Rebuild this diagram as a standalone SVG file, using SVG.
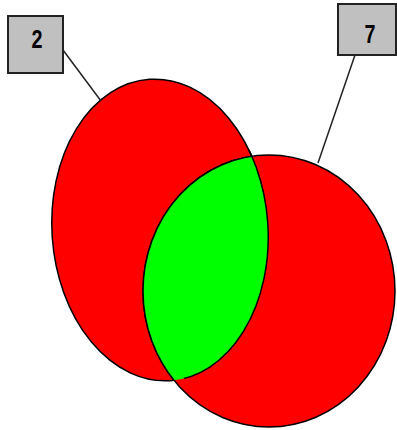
<svg xmlns="http://www.w3.org/2000/svg" width="397" height="430" viewBox="0 0 397 430">
<style>
.set{fill:#ff0000;stroke:#000;stroke-width:1.5}
.both{fill:#00ff00;stroke:#000;stroke-width:1.5}
.box{fill:#c0c0c0;stroke:#222;stroke-width:2}
.lbl{font-family:"Liberation Sans",Arial,sans-serif;font-weight:bold;font-size:25px;fill:#000}
.lead{stroke:#222;stroke-width:1.5;fill:none}
</style>
<defs>
<clipPath id="clipA"><ellipse cx="160" cy="230" rx="108" ry="151" transform="rotate(-4 160 230)"/></clipPath>
</defs>
<g id="setA"><ellipse class="set" cx="160" cy="230" rx="108" ry="151" transform="rotate(-4 160 230)"/></g>
<g id="setB"><ellipse class="set" cx="269" cy="291" rx="126" ry="136"/></g>
<g id="intersection"><ellipse class="both" cx="269" cy="291" rx="126" ry="136" clip-path="url(#clipA)"/>
<ellipse cx="160" cy="230" rx="108" ry="151" transform="rotate(-4 160 230)" fill="none" stroke="#000" stroke-width="1.5" clip-path="url(#clipB)"/></g>
<defs><clipPath id="clipB"><ellipse cx="269" cy="291" rx="126" ry="136"/></clipPath></defs>
<g id="connectors">
<line class="lead" x1="63" y1="50" x2="101" y2="101"/>
<line class="lead" x1="355" y1="55" x2="318" y2="163"/>
</g>
<g id="label2"><rect class="box" x="8" y="16" width="55" height="57"/><text class="lbl" x="37" y="48" text-anchor="middle" textLength="11" lengthAdjust="spacingAndGlyphs">2</text></g>
<g id="label7"><rect class="box" x="338" y="4" width="58" height="51"/><text class="lbl" x="370" y="43" text-anchor="middle" textLength="11" lengthAdjust="spacingAndGlyphs">7</text></g>
</svg>
